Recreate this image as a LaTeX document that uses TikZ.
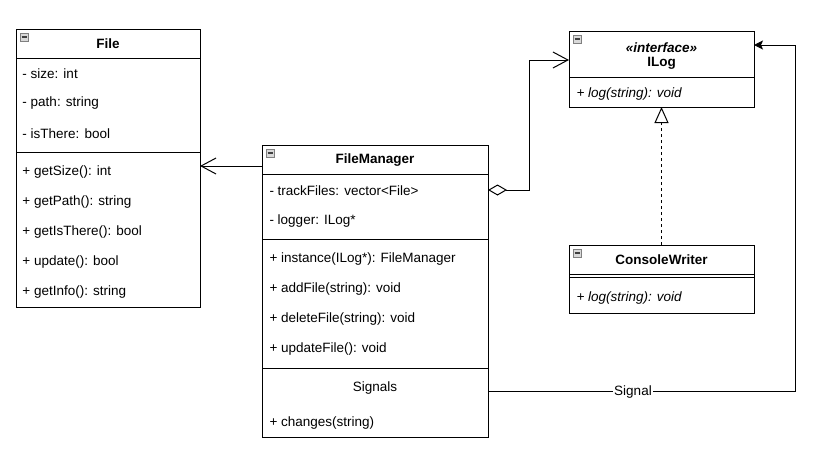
\documentclass[tikz,border=0pt]{standalone}
\usepackage{fontspec}
\setmainfont{Liberation Sans}
\usetikzlibrary{arrows.meta}
\begin{document}
\begin{tikzpicture}[x=1pt,y=-1pt,line width=1pt,
  box/.style={draw, anchor=north west, inner sep=0pt, outer sep=0pt, fill=white},
  txt/.style={anchor=west, inner sep=0pt, font=\fontsize{13.5}{16}\selectfont},
  ttl/.style={inner sep=0pt, font=\fontsize{13.5}{16}\selectfont\bfseries},
  itx/.style={anchor=west, inner sep=0pt, font=\fontsize{13.5}{16}\selectfont\itshape},
  openv/.style={-{Straight Barb[length=15pt,width=16pt]}},
  lbl/.style={fill=white, inner sep=1pt, font=\fontsize{13.5}{16}\selectfont}
]
\useasboundingbox (0,0) rectangle (815,466);
\newcommand{\minusicon}[2]{%
  \draw[fill=gray!30, draw=gray, line width=0.6pt] (#1,#2) rectangle ++(8,8);
  \draw[gray!50!black, line width=1.2pt] (#1+1.5,#2+4) -- ++(5,0);}

% File
\node[box, minimum width=184pt, minimum height=278pt] (file) at (16,29) {};
\draw (16,58) -- (200,58);
\draw (16,152) -- (200,152);
\minusicon{20}{33}
\node[ttl] (fileT) at (108,44) {File};
\node[txt] (f1) at (22,73.5) {- size: int};
\node[txt] (f2) at (22,103.5) {- path: string};
\node[txt] (f3) at (22,133.5) {- isThere: bool};
\node[txt] (f4) at (22,172.5) {+ getSize(): int};
\node[txt] (f5) at (22,202.5) {+ getPath(): string};
\node[txt] (f6) at (22,232.5) {+ getIsThere(): bool};
\node[txt] (f7) at (22,262.5) {+ update(): bool};
\node[txt] (f8) at (22,292.5) {+ getInfo(): string};

% FileManager
\node[box, minimum width=226pt, minimum height=292pt] (fm) at (262,145) {};
\draw (262,174) -- (488,174);
\draw (262,239) -- (488,239);
\draw (262,368) -- (488,368);
\minusicon{266}{149}
\node[ttl] (fmT) at (375,160) {FileManager};
\node[txt] (m1) at (269,190.5) {- trackFiles: vector<File>};
\node[txt] (m2) at (269,221) {- logger: ILog*};
\node[txt] (m3) at (269,259.5) {+ instance(ILog*): FileManager};
\node[txt] (m4) at (269,289.5) {+ addFile(string): void};
\node[txt] (m5) at (269,319.5) {+ deleteFile(string): void};
\node[txt] (m6) at (269,349.5) {+ updateFile(): void};
\node[ttl, font=\fontsize{13.5}{16}\selectfont] (m7) at (375,388.5) {Signals};
\node[txt] (m8) at (269,423.5) {+ changes(string)};

% ILog
\node[box, minimum width=185pt, minimum height=76pt] (ilog) at (569,31) {};
\draw (569,77) -- (754,77);
\minusicon{573}{35}
\node[ttl, font=\fontsize{13.5}{16}\selectfont\bfseries\itshape] (ilS) at (661.5,48) {«interface»};
\node[ttl] (ilT) at (661.5,63.5) {ILog};
\node[itx] (il1) at (576,94.5) {+ log(string): void};

% ConsoleWriter
\node[box, minimum width=185pt, minimum height=68pt] (cw) at (569,245) {};
\draw (569,274) -- (754,274);
\draw (569,277.5) -- (754,277.5);
\minusicon{573}{249}
\node[ttl] (cwT) at (661.5,259.5) {ConsoleWriter};
\node[itx] (cw1) at (576,298.5) {+ log(string): void};

% connectors
\draw[openv] (fm.west |- 0,166) -- (file.east |- 0,166);
\draw[{Diamond[open,length=19pt,width=11pt]}-{Straight Barb[length=15pt,width=16pt]}]
  (fm.east |- 0,190) -- (529,190) -- (529,60) -- (ilog.west |- 0,60);
\draw[dash pattern=on 3pt off 3pt, -{Triangle[open,length=16pt,width=14pt]}]
  (cw.north) -- (ilog.south);
\draw[-{Stealth[length=9pt,width=9pt,inset=2pt]}]
  (fm.east |- 0,391) -- (795,391) -- (795,45) -- (ilog.east |- 0,45);
\node[lbl] (sig) at (633,392.5) {Signal};
\end{tikzpicture}
\end{document}
